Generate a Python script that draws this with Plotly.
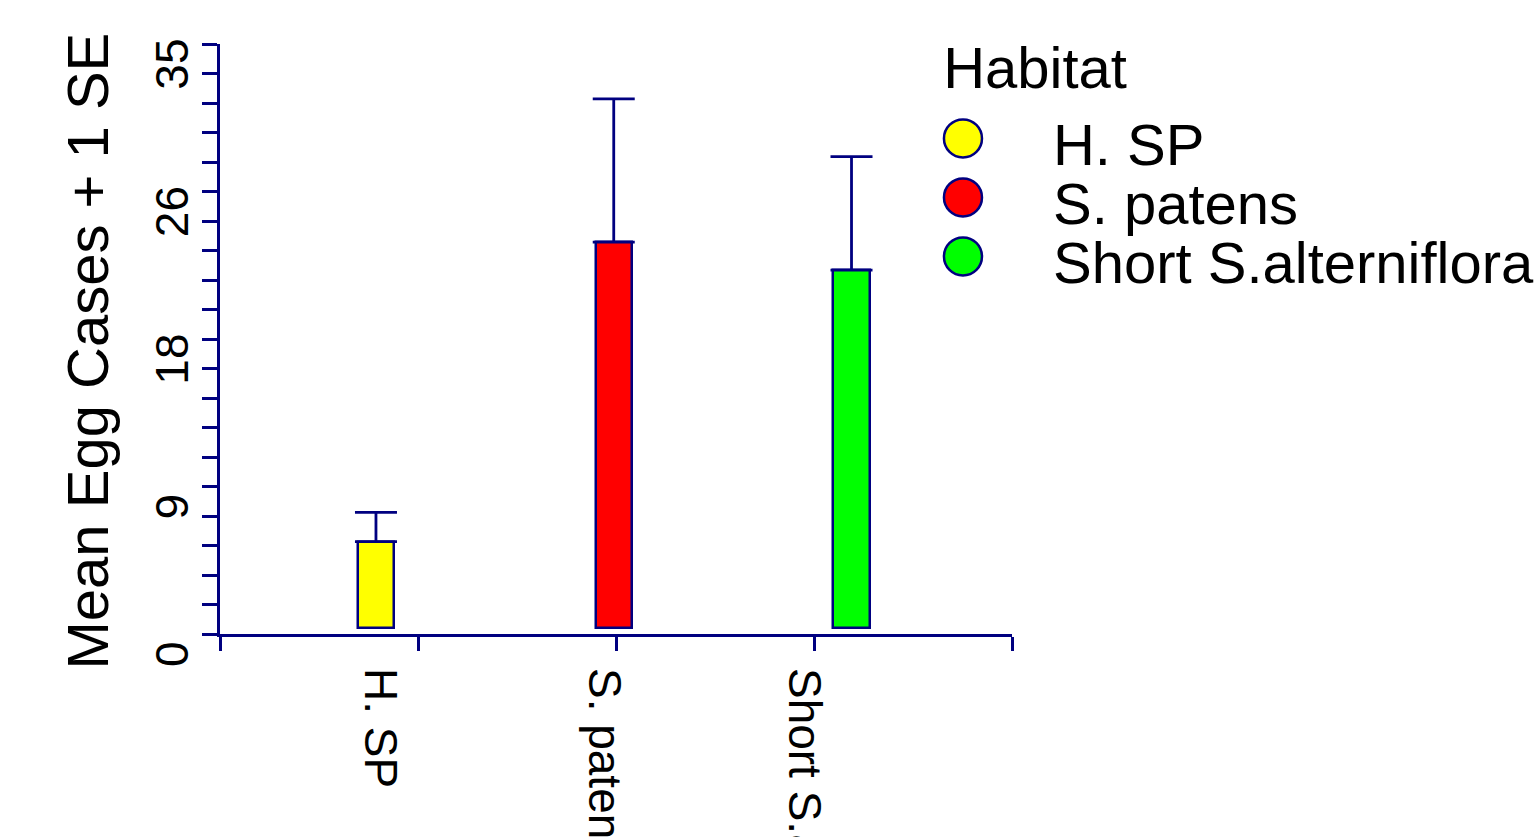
import plotly.graph_objects as go

# ---------------- data ----------------
categories = ["H. SP", "S. patens", "Short S.alterniflora"]
means = [5.48, 23.25, 21.58]
se = [1.74, 8.50, 6.74]
colors = ["#FFFF00", "#FF0000", "#00FF00"]
y_tickvals = [0, 8.75, 17.5, 26.25, 35]
y_ticktext = ["0", "9", "18", "26", "35"]
legend_title = "Habitat"
y_title = "Mean Egg Cases + 1 SE"

# ---------------- layout constants ----------------
NAVY = "#000080"
FONT = "Liberation Sans, Arial, sans-serif"
W, H = 1538, 837
ML, MR, MT, MB = 220, 0, 44, 203
XMIN, XMAX = -0.656, 2.675
BASE = 0.35
PAPER_W = W - ML - MR
PAPER_H = H - MT - MB
MAIN_X_END = 792 / PAPER_W

xpos = list(range(len(categories)))
x_boundaries = [XMIN + i * (XMAX - XMIN) / 4 for i in range(5)]
label_pos = [0.015, 0.957, 1.798]

fig = go.Figure()

fig.add_trace(go.Bar(
    x=xpos,
    y=[m - BASE for m in means],
    base=BASE,
    width=0.152,
    marker=dict(color=colors, line=dict(color=NAVY, width=2.5)),
    error_y=dict(type="data", array=se, arrayminus=[0] * len(se), symmetric=False,
                 color=NAVY, thickness=2.8, width=21),
    xaxis="x", yaxis="y",
    showlegend=False,
))

# custom legend on hidden axes
fig.add_trace(go.Scatter(
    x=[0] * len(categories), y=list(range(len(categories))),
    mode="markers",
    marker=dict(symbol="circle", size=38, color=colors, line=dict(color=NAVY, width=2.5)),
    xaxis="x3", yaxis="y3", showlegend=False, hoverinfo="skip",
))
fig.add_trace(go.Scatter(
    x=[1] * len(categories), y=[i + 0.21 for i in range(len(categories))],
    mode="text", text=categories, textposition="middle right",
    textfont=dict(family=FONT, size=58, color="black"),
    xaxis="x3", yaxis="y3", showlegend=False, hoverinfo="skip",
))
fig.add_trace(go.Scatter(
    x=[-0.22], y=[-1.1], mode="text", text=[legend_title], textposition="middle right",
    textfont=dict(family=FONT, size=58, color="black"),
    xaxis="x3", yaxis="y3", showlegend=False, hoverinfo="skip",
))

fig.update_layout(
    width=W, height=H,
    margin=dict(l=ML, r=MR, t=MT, b=MB, autoexpand=False),
    paper_bgcolor="white", plot_bgcolor="white",
    font=dict(family=FONT, color="black"),
    showlegend=False,
    bargap=0,
    xaxis=dict(
        domain=[0, MAIN_X_END], range=[XMIN, XMAX], automargin=False,
        tickmode="array", tickvals=label_pos, ticktext=categories,
        tickangle=90, ticks="",
        tickfont=dict(family=FONT, size=46, color="black"),
        ticklabelstandoff=22,
        minor=dict(tickmode="array", tickvals=x_boundaries, ticks="outside",
                   ticklen=14, tickwidth=2.5, tickcolor=NAVY, showgrid=False),
        showline=True, linecolor=NAVY, linewidth=2.5,
        showgrid=False, zeroline=False, fixedrange=True,
    ),
    yaxis=dict(
        domain=[0, 1], range=[0, 35], automargin=False,
        tickmode="array", tickvals=y_tickvals, ticktext=y_ticktext,
        tickangle=-90, ticks="outside", ticklen=15, tickwidth=2.5, tickcolor=NAVY,
        minor=dict(dtick=1.75, ticks="outside", ticklen=15, tickwidth=2.5, tickcolor=NAVY, showgrid=False),
        showline=True, linecolor=NAVY, linewidth=2.5,
        showgrid=False, zeroline=False,
        tickfont=dict(family=FONT, size=46, color="black"),
        ticklabelshift=27,
        ticklabelstandoff=-4,
    ),
    xaxis3=dict(domain=[0.5, 1], range=[-0.933, 6.389], visible=False, fixedrange=True),
    yaxis3=dict(domain=[0, 1], range=[8.4, -1.6], visible=False, anchor="x3", fixedrange=True),
    annotations=[dict(
        text=y_title, textangle=-90, showarrow=False,
        xref="paper", yref="paper",
        x=(87 - ML) / PAPER_W, y=(H - MB - 351.5) / PAPER_H,
        xanchor="center", yanchor="middle",
        font=dict(family=FONT, size=58, color="black"),
    )],
)

fig.write_html("out.html")
